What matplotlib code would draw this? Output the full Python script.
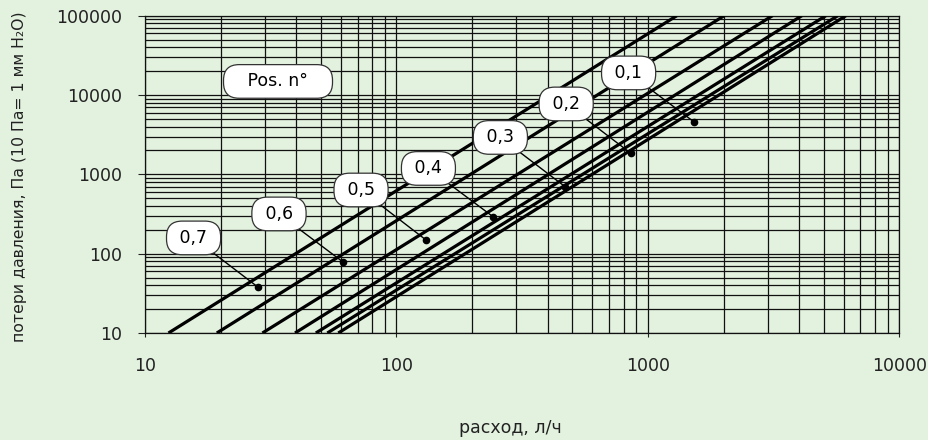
import matplotlib.pyplot as plt
from matplotlib.ticker import FixedLocator, LogLocator, NullFormatter

# Data
positions = ['0,7', '0,6', '0,5', '0,4', '0,3', '0,2', '0,1']
dp_ends = [10, 100000]                                   # Pa
flow_at_10pa = [12.4, 19.3, 29.3, 39.5, 47.8, 53.1, 58.7]      # l/h
flow_at_100kpa = [1303, 2010, 3128, 4094, 5100, 5692, 6127]    # l/h
dot_flow = [28.1, 61.3, 131, 242, 468, 855, 1520]
dot_dp = [38, 78.5, 149, 293, 700, 1845, 4620]

x_ticks = [10, 100, 1000, 10000]
y_ticks = [10, 100, 1000, 10000, 100000]

# where the rounded labels sit (data coords)
label_at = [(15.6, 158), (34.1, 317), (72.3, 635), (134, 1187),
            (259, 2920), (473, 7720), (838, 19000)]
title_at = (33.8, 14840)

bg = '#e3f2df'
plt.rcParams['font.family'] = ['DejaVu Sans']

fig = plt.figure(figsize=(9.29, 4.40), dpi=100, facecolor=bg)
ax = fig.add_axes([0.1561, 0.2432, 0.8120, 0.7211])
ax.set_facecolor(bg)
ax.set_xscale('log')
ax.set_yscale('log')
ax.set_xlim(10, 10000)
ax.set_ylim(10, 100000)

# grid
ax.xaxis.set_major_locator(FixedLocator(x_ticks))
ax.yaxis.set_major_locator(FixedLocator(y_ticks))
ax.xaxis.set_minor_locator(LogLocator(base=10, subs=range(2, 10)))
ax.yaxis.set_minor_locator(LogLocator(base=10, subs=range(2, 10)))
ax.xaxis.set_minor_formatter(NullFormatter())
ax.yaxis.set_minor_formatter(NullFormatter())
ax.set_xticklabels([str(v) for v in x_ticks])
ax.set_yticklabels([str(v) for v in y_ticks])
ax.grid(True, which='both', color='#111111', linewidth=0.9)
ax.set_axisbelow(True)
for s in ax.spines.values():
    s.set_color('#111111')
    s.set_linewidth(0.9)

ax.tick_params(axis='y', which='major', length=5, width=0.8, pad=11.5,
               labelsize=12.5, colors='#222222')
ax.tick_params(axis='x', which='major', length=3, width=0.8, pad=14,
               labelsize=12.5, colors='#222222')
ax.tick_params(which='minor', length=0)

# pressure loss lines
for q0, q1 in zip(flow_at_10pa, flow_at_100kpa):
    ax.plot([q0, q1], dp_ends, color='black', linewidth=2.3,
            solid_capstyle='butt', zorder=3)

# labels with leader lines
box = dict(boxstyle='round,pad=0.45,rounding_size=0.9', facecolor='white',
           edgecolor='#333333', linewidth=0.9)
for name, (lx, ly), qx, py in zip(positions, label_at, dot_flow, dot_dp):
    ax.plot([lx, qx], [ly, py], color='black', linewidth=1.0, zorder=4)
    ax.plot(qx, py, 'o', color='black', markersize=4.5, zorder=5)
    ax.text(lx, ly, ' ' + name + ' ', ha='center', va='center',
            fontsize=12.5, bbox=box, zorder=6)

ax.text(title_at[0], title_at[1], '   Pos. n°   ', ha='center', va='center',
        fontsize=12.5, bbox=box, zorder=6)

fig.text(20 / 929, 1 - 177 / 440, 'потери давления, Па (10 Па= 1 мм H\u2082O)',
         rotation=90, ha='center', va='center', fontsize=11.3, color='#222222')
fig.text(510 / 929, 1 - 428 / 440, 'расход, л/ч', ha='center', va='center',
         fontsize=12.5, color='#222222')

fig.savefig('out.png', dpi=100, facecolor=bg)
